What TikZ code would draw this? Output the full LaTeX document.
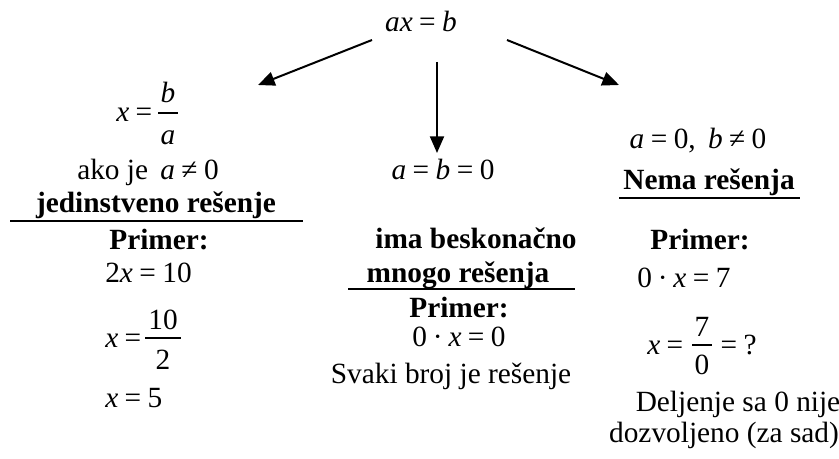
\documentclass[tikz,border=0pt]{standalone}
\usepackage{fontspec}
\setmainfont{Liberation Serif}
\usetikzlibrary{arrows.meta}
\newcommand\fsz{\fontsize{22}{26}\selectfont}
\newcommand\eqs{\hspace{0.22em}=\hspace{0.22em}}
\newcommand\nes{\hspace{0.22em}≠\hspace{0.22em}}
\newcommand\cdt{\hspace{0.2em}·\hspace{0.2em}}
\begin{document}
\begin{tikzpicture}[x=0.75pt,y=-0.75pt,
  t/.style={inner sep=0pt,font=\fsz},
  tb/.style={inner sep=0pt,font=\fsz\bfseries},
  arr/.style={-{Triangle[length=12.5pt,width=10.5pt]},line width=1.5pt},
  rulel/.style={line width=1.3pt},
  fbar/.style={line width=1pt}]
\useasboundingbox (0,0) rectangle (839,459);
% top
\node[t,anchor=base] (top) at (421,32) {\textit{ax}\eqs\textit{b}};
% arrows
\coordinate (l0) at (372,40);
\coordinate (l1) at (258,85);
\coordinate (m0) at (437,62);
\coordinate (m1) at (437,153);
\coordinate (r0) at (507,40);
\coordinate (r1) at (619,85);
\draw[arr] (l0) -- (l1);
\draw[arr] (m0) -- (m1);
\draw[arr] (r0) -- (r1);
% left column
\node[t,anchor=base west] (xl) at (116,122) {\textit{x}\eqs};
\node[t,anchor=base] (bnum) at (168,103) {\textit{b}};
\node[t,anchor=base] (aden) at (168,145) {\textit{a}};
\draw[fbar] (158,113) -- (178,113);
\node[t,anchor=base] (ako) at (148,180) {ako je\, \textit{a}\nes0};
\node[tb,anchor=base] (jed) at (156,213) {jedinstveno re\v{s}enje};
\draw[rulel] (10,221) -- (303,221);
\node[tb,anchor=base] (pl) at (159,250) {Primer:};
\node[t,anchor=base west] (e1) at (105,283) {2\textit{x}\eqs10};
\node[t,anchor=base west] (e2) at (105,348) {\textit{x}\eqs};
\node[t,anchor=base] (n10) at (163,330) {10};
\node[t,anchor=base] (d2) at (163,370) {2};
\draw[fbar] (145,338) -- (181,338);
\node[t,anchor=base west] (e3) at (105,408) {\textit{x}\eqs5};
% middle column
\node[t,anchor=base] (abz) at (443,180) {\textit{a}\eqs\textit{b}\eqs0};
\node[tb,anchor=base] (ima) at (476,249) {ima beskona\v{c}no};
\node[tb,anchor=base] (mno) at (458,283) {mnogo re\v{s}enja};
\draw[rulel] (348,289) -- (575,289);
\node[tb,anchor=base] (pm) at (459,318) {Primer:};
\node[t,anchor=base] (e4) at (459,347) {0\cdt\textit{x}\eqs0};
\node[t,anchor=base] (svaki) at (451,384) {Svaki broj je re\v{s}enje};
% right column
\node[t,anchor=base] (abn) at (698,149) {\textit{a}\eqs0,\, \textit{b}\nes0};
\node[tb,anchor=base] (nema) at (709,190) {Nema re\v{s}enja};
\draw[rulel] (619,198) -- (800,198);
\node[tb,anchor=base] (pr) at (700,250) {Primer:};
\node[t,anchor=base west] (e5) at (637,288) {0\cdt\textit{x}\eqs7};
\node[t,anchor=base west] (e6) at (647,355) {\textit{x}\eqs};
\node[t,anchor=base] (n7) at (702,337) {7};
\node[t,anchor=base] (d0) at (702,375) {0};
\draw[fbar] (692,345) -- (712,345);
\node[t,anchor=base west] (q) at (714,355) {\eqs?};
\node[t,anchor=base] (del) at (738,412) {Deljenje sa 0 nije};
\node[t,anchor=base] (doz) at (724,442) {dozvoljeno (za sad)};
\end{tikzpicture}
\end{document}
